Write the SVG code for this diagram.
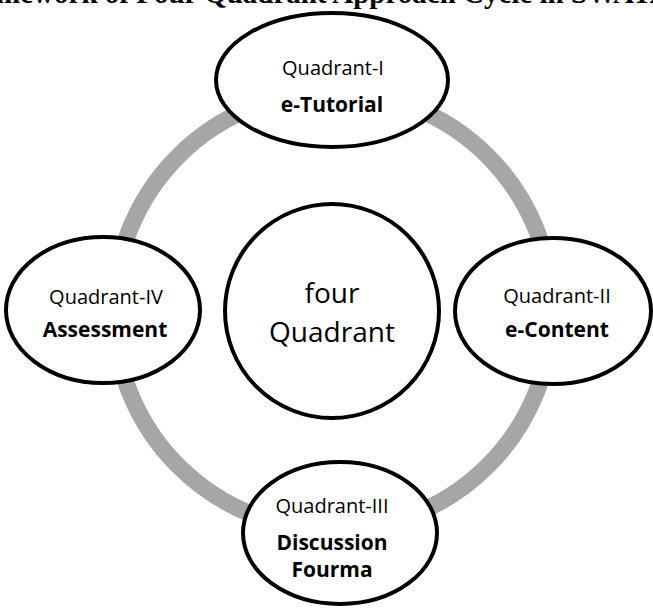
<svg xmlns="http://www.w3.org/2000/svg" width="653" height="608" viewBox="0 0 653 608">
<style>
.title{font-family:"Liberation Serif","Times New Roman",serif;font-weight:bold;font-size:29px;fill:#000}
.node{fill:#fff;stroke:#000;stroke-width:4}
.lbl{font-family:"Open Sans","Noto Sans",sans-serif;font-size:20px;fill:#000;text-anchor:middle}
.bold{font-weight:bold;font-size:21px}
.big{font-size:28px}
.ring{fill:none;stroke:#A6A6A6;stroke-width:17}
</style>
<rect width="653" height="608" fill="#fff"/>
<text class="title" x="-49" y="3">Framework of Four Quadrant Approach Cycle in SWAYAM</text>
<g id="connectors">
<circle class="ring" cx="333" cy="311" r="219"/>
</g>
<g id="center">
<circle class="node" cx="332" cy="311" r="107"/>
<text class="lbl big" x="332" y="303">four</text>
<text class="lbl big" x="332" y="342">Quadrant</text>
</g>
<g id="q1">
<ellipse class="node" cx="332" cy="80" rx="116" ry="67"/>
<text class="lbl" x="333" y="75">Quadrant-I</text>
<text class="lbl bold" x="332" y="112">e-Tutorial</text>
</g>
<g id="q2">
<ellipse class="node" cx="553" cy="311" rx="98" ry="73"/>
<text class="lbl" x="557" y="303">Quadrant-II</text>
<text class="lbl bold" x="557" y="337">e-Content</text>
</g>
<g id="q3">
<ellipse class="node" cx="340" cy="533" rx="97" ry="71"/>
<text class="lbl" x="332" y="513">Quadrant-III</text>
<text class="lbl bold" x="332" y="550">Discussion</text>
<text class="lbl bold" x="332" y="577">Fourma</text>
</g>
<g id="q4">
<ellipse class="node" cx="103" cy="310" rx="97" ry="73"/>
<text class="lbl" x="106" y="304">Quadrant-IV</text>
<text class="lbl bold" x="105" y="337">Assessment</text>
</g>
</svg>
